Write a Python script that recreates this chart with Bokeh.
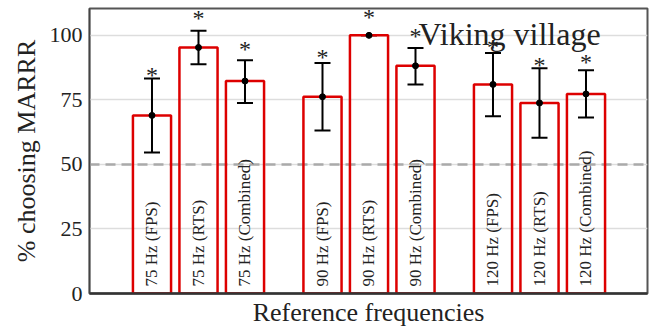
import math
from bokeh.plotting import figure
from bokeh.models import ColumnDataSource, Whisker, TeeHead, Span, Label, FixedTicker
from bokeh.core.properties import value
from bokeh.embed import file_html
from bokeh.resources import INLINE

# ---- data ----
groups = ["75 Hz", "90 Hz", "120 Hz"]
conditions = ["FPS", "RTS", "Combined"]
labels = ["75 Hz (FPS)", "75 Hz (RTS)", "75 Hz (Combined)",
          "90 Hz (FPS)", "90 Hz (RTS)", "90 Hz (Combined)",
          "120 Hz (FPS)", "120 Hz (RTS)", "120 Hz (Combined)"]
pct = [69.0, 95.3, 82.3, 76.2, 100.0, 88.2, 81.0, 73.8, 77.3]
ci_upper = [83.3, 101.8, 90.4, 89.3, 100.0, 95.1, 93.2, 87.3, 86.5]
ci_lower = [54.6, 88.8, 73.8, 63.1, 100.0, 81.0, 68.7, 60.3, 68.2]
star_y = [86.3, 108.3, 96.2, 93.0, 108.8, 101.3, 96.9, 90.0, 91.4]
y_ticks = [0, 25, 50, 75, 100]
chance = 50

# ---- positions ----
group_gap = 11 / 3
xs = []
for gi in range(len(groups)):
    for ci in range(len(conditions)):
        xs.append(gi * group_gap + (ci - 1))

src = ColumnDataSource(dict(x=xs, top=pct, upper=ci_upper, lower=ci_lower,
                            star=star_y, label=labels))

FONT = "Liberation Serif"
TXT = "#222222"

p = figure(width=649, height=329, x_range=(-2.344, 9.656), y_range=(0, 110.4),
           output_backend="svg", toolbar_location=None,
           min_border_left=89, min_border_right=2, min_border_top=8, min_border_bottom=34)

p.outline_line_color = "#555555"
p.outline_line_width = 2
p.background_fill_color = "white"

p.xgrid.visible = False
p.ygrid.ticker = FixedTicker(ticks=y_ticks)
p.ygrid.grid_line_color = "#dddddd"
p.ygrid.grid_line_width = 1.5

p.yaxis.ticker = FixedTicker(ticks=y_ticks)
p.yaxis.major_tick_out = 0
p.yaxis.major_tick_in = 0
p.yaxis.minor_tick_out = 0
p.yaxis.minor_tick_in = 0
p.yaxis.major_tick_line_color = None
p.yaxis.minor_tick_line_color = None
p.yaxis.axis_line_color = "#444444"
p.yaxis.axis_line_width = 1.5
p.yaxis.major_label_text_font = FONT
p.yaxis.major_label_text_font_size = "22px"
p.yaxis.major_label_text_color = TXT
p.yaxis.major_label_standoff = 7
p.yaxis.axis_label = "% choosing MARRR"
p.yaxis.axis_label_text_font = FONT
p.yaxis.axis_label_text_font_size = "26px"
p.yaxis.axis_label_text_font_style = "normal"
p.yaxis.axis_label_text_color = TXT
p.yaxis.axis_label_standoff = 6

p.xaxis.ticker = FixedTicker(ticks=[])
p.xaxis.major_tick_out = 0
p.xaxis.major_tick_in = 0
p.xaxis.minor_tick_out = 0
p.xaxis.minor_tick_in = 0
p.xaxis.major_label_standoff = 0
p.xaxis.major_label_text_font_size = "0px"
p.xaxis.major_tick_line_color = None
p.xaxis.minor_tick_line_color = None
p.xaxis.axis_line_color = "#333333"
p.xaxis.axis_line_width = 2.5
p.xaxis.axis_label = "Reference frequencies"
p.xaxis.axis_label_text_font = FONT
p.xaxis.axis_label_text_font_size = "26px"
p.xaxis.axis_label_text_font_style = "normal"
p.xaxis.axis_label_text_color = TXT
p.xaxis.axis_label_standoff = 4

span = Span(location=chance, dimension="width", line_color="#aaaaaa",
            line_width=2.5, line_dash="10 6", level="underlay")
p.add_layout(span)

p.vbar(x="x", top="top", bottom=0, width=0.82, source=src,
       fill_alpha=0, line_color="#dd0000", line_width=2.5)

p.text(x="x", y=2.7, text="label", source=src, angle=math.pi / 2,
       text_align="left", text_baseline="middle",
       text_font=value(FONT), text_font_size="17px", text_color=TXT)

wh = Whisker(source=src, base="x", upper="upper", lower="lower",
             line_color="black", line_width=2,
             upper_head=TeeHead(size=16, line_width=2, line_color="black"),
             lower_head=TeeHead(size=16, line_width=2, line_color="black"))
p.add_layout(wh)

p.scatter(x="x", y="top", source=src, size=6, color="black")

p.text(x="x", y="star", text=value("*"), source=src,
       text_align="center", text_baseline="alphabetic", y_offset=4,
       text_font=value(FONT), text_font_size="24px", text_color=TXT)

p.add_layout(Label(x=6.69, y=100.7, text="Viking village", text_align="center",
                   text_baseline="alphabetic", text_font=FONT,
                   text_font_size="32px", text_color=TXT))

open("out.html", "w").write(file_html(p, INLINE))
